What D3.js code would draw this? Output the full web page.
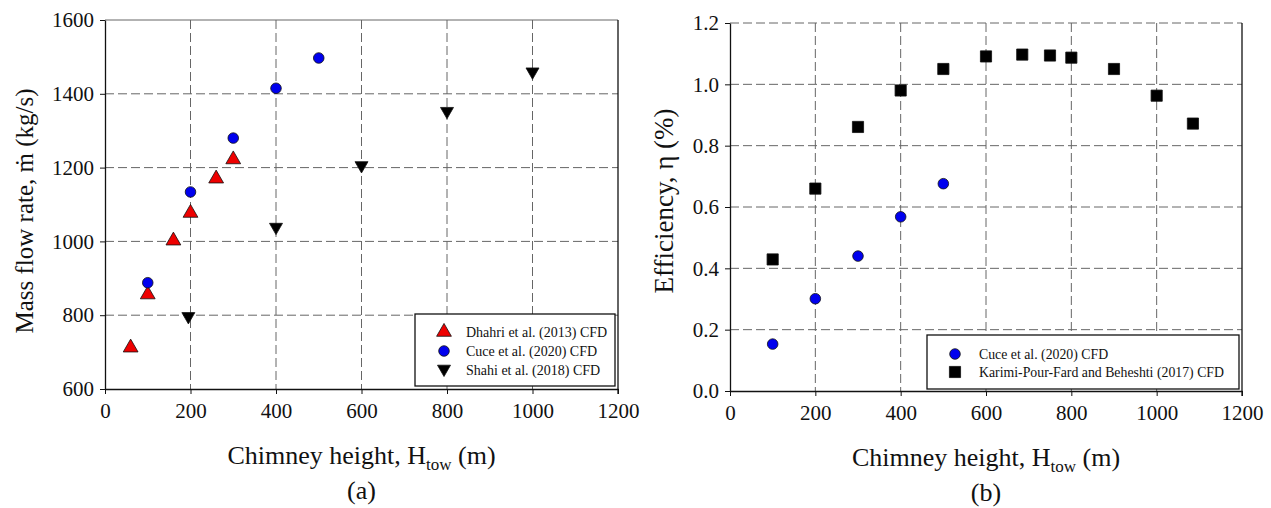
<!DOCTYPE html>
<html>
<head>
<meta charset="utf-8">
<script src="https://cdn.jsdelivr.net/npm/d3@7"></script>
<style>
body{margin:0;background:#fff;}
text{font-family:"Liberation Serif","Times New Roman",serif;fill:#111;}
</style>
</head>
<body>
<svg width="1271" height="508"></svg>
<script>
// panel (a) data
var dhahriH=[60,100,160,200,260,300]
var dhahriM=[712,856,1002,1077,1170,1222]
var cuceH=[100,200,300,400,500]
var cuceM=[888,1134,1280,1415,1497]
var shahiH=[195,400,600,800,1000]
var shahiM=[794,1036,1203,1350,1457]
// panel (b) data
var cuceEffH=[100,200,300,400,500]
var cuceEff=[0.153,0.301,0.440,0.568,0.676]
var karimiH=[100,200,300,400,500,600,685,750,800,900,1000,1085]
var karimiEff=[0.429,0.660,0.861,0.980,1.050,1.091,1.097,1.094,1.087,1.050,0.963,0.872]

var xTicks=[0,200,400,600,800,1000,1200]
var yTicksA=[600,800,1000,1200,1400,1600]
var yTicksB=[0,0.2,0.4,0.6,0.8,1.0,1.2]

var svg=d3.select('svg')

function panel(o){
    var g=svg.append('g')
    var x=d3.scaleLinear().domain([0,1200]).range([o.left,o.right])
    var y=d3.scaleLinear().domain(o.ydom).range([o.bottom,o.top])

    // grid
    g.selectAll('.gx').data(xTicks.slice(1,-1)).enter().append('line')
        .attr('x1',d=>x(d)).attr('x2',d=>x(d)).attr('y1',o.top).attr('y2',o.bottom)
        .attr('stroke','#666').attr('stroke-dasharray','9,4').attr('stroke-width',1)
    g.selectAll('.gy').data(o.yticks.slice(1)).enter().append('line')
        .attr('y1',d=>y(d)).attr('y2',d=>y(d)).attr('x1',o.left).attr('x2',o.right)
        .attr('stroke','#666').attr('stroke-width',1)
        .attr('stroke-dasharray',function(d,i){return (o.topSolid&&i==o.yticks.length-2)?null:'9,4'})

    // right border
    g.append('line').attr('x1',o.right).attr('x2',o.right).attr('y1',o.top).attr('y2',o.bottom+5)
        .attr('stroke','#111').attr('stroke-width',1.3)

    var xa=g.append('g').attr('transform','translate(0,'+o.bottom+')')
        .call(d3.axisBottom(x).tickValues(xTicks).tickSizeOuter(0).tickSizeInner(5).tickFormat(d3.format('d')))
    var ya=g.append('g').attr('transform','translate('+o.left+',0)')
        .call(d3.axisLeft(y).tickValues(o.yticks).tickSizeOuter(0).tickSizeInner(5).tickFormat(o.yfmt))
    ;[xa,ya].forEach(function(a){
        a.attr('font-family',null).attr('font-size',null)
        a.select('.domain').attr('stroke','#111').attr('stroke-width',1.3)
        a.selectAll('.tick line').attr('stroke','#111')
        a.selectAll('.tick text').style('font-family','"Liberation Serif",serif').style('font-size','21px').attr('fill','#111')
    })
    xa.selectAll('.tick text').attr('dy','0.71em').attr('y',14)
    ya.selectAll('.tick text').attr('x',-11)

    // axis titles
    var t=g.append('text').attr('x',(o.left+o.right)/2).attr('y',o.bottom+75)
        .attr('text-anchor','middle').style('font-size','26px')
    t.append('tspan').text('Chimney height, H')
    t.append('tspan').text('tow').style('font-size','17px').attr('dy',6)
    t.append('tspan').text(' (m)').attr('dy',-6)
    g.append('text').attr('x',(o.left+o.right)/2).attr('y',o.bottom+110)
        .attr('text-anchor','middle').style('font-size','26px').text(o.tag)
    g.append('text').attr('transform','translate('+o.ylabX+','+o.ylabY+') rotate(-90)')
        .attr('text-anchor','middle').style('font-size',o.ylabSize).text(o.ylabel)

    // legend box
    g.append('rect').attr('x',o.leg.x).attr('y',o.leg.y).attr('width',o.leg.w).attr('height',o.leg.h)
        .attr('fill','#fff').attr('stroke','#111').attr('stroke-width',1.3)

    o.series.forEach(function(s,i){
        var pts=s.xs.map(function(v,j){return {x:v,y:s.ys[j]}})
        g.selectAll(null).data(pts).enter().append('path')
            .attr('transform',d=>'translate('+x(d.x)+','+y(d.y)+')')
            .attr('d',s.sym).attr('fill',s.fill).attr('stroke','#111').attr('stroke-width',0.8)
        var ly=o.leg.y+o.leg.rows[i]
        g.append('path').attr('transform','translate('+(o.leg.x+o.leg.mx)+','+ly+')')
            .attr('d',s.sym).attr('fill',s.fill).attr('stroke','#111').attr('stroke-width',0.8)
        g.append('text').attr('x',o.leg.x+o.leg.tx).attr('y',ly+5)
            .style('font-size',o.leg.fs).text(s.name)
    })
}

var triUp=d3.symbol().type(d3.symbolTriangle).size(95)()
var triDown='M0,6.5L-6.5,-4.8L6.5,-4.8Z'
var circ=d3.symbol().type(d3.symbolCircle).size(88)()
var sq=d3.symbol().type(d3.symbolSquare).size(125)()

panel({left:105,right:618,top:20,bottom:389,ydom:[600,1600],yticks:yTicksA,yfmt:d3.format('d'),
    topSolid:true,tag:'(a)',ylabel:'Mass flow rate, ṁ (kg/s)',ylabX:33,ylabY:211,ylabSize:'25px',
    leg:{x:415,y:314,w:200,h:72,mx:29,tx:51,rows:[18,37,56],fs:'14px'},
    series:[
        {name:'Dhahri et al. (2013) CFD',xs:dhahriH,ys:dhahriM,sym:triUp,fill:'#ee0000'},
        {name:'Cuce et al. (2020) CFD',xs:cuceH,ys:cuceM,sym:circ,fill:'#0000ee'},
        {name:'Shahi et al. (2018) CFD',xs:shahiH,ys:shahiM,sym:triDown,fill:'#000'}
    ]})

panel({left:730,right:1242,top:23,bottom:391,ydom:[0,1.2],yticks:yTicksB,yfmt:d3.format('.1f'),
    topSolid:false,tag:'(b)',ylabel:'Efficiency, η (%)',ylabX:673,ylabY:201,ylabSize:'27px',
    leg:{x:927,y:335,w:312,h:54,mx:28,tx:52,rows:[19,37],fs:'13.8px'},
    series:[
        {name:'Cuce et al. (2020) CFD',xs:cuceEffH,ys:cuceEff,sym:circ,fill:'#0000ee'},
        {name:'Karimi-Pour-Fard and Beheshti (2017) CFD',xs:karimiH,ys:karimiEff,sym:sq,fill:'#000'}
    ]})
</script>
</body>
</html>
